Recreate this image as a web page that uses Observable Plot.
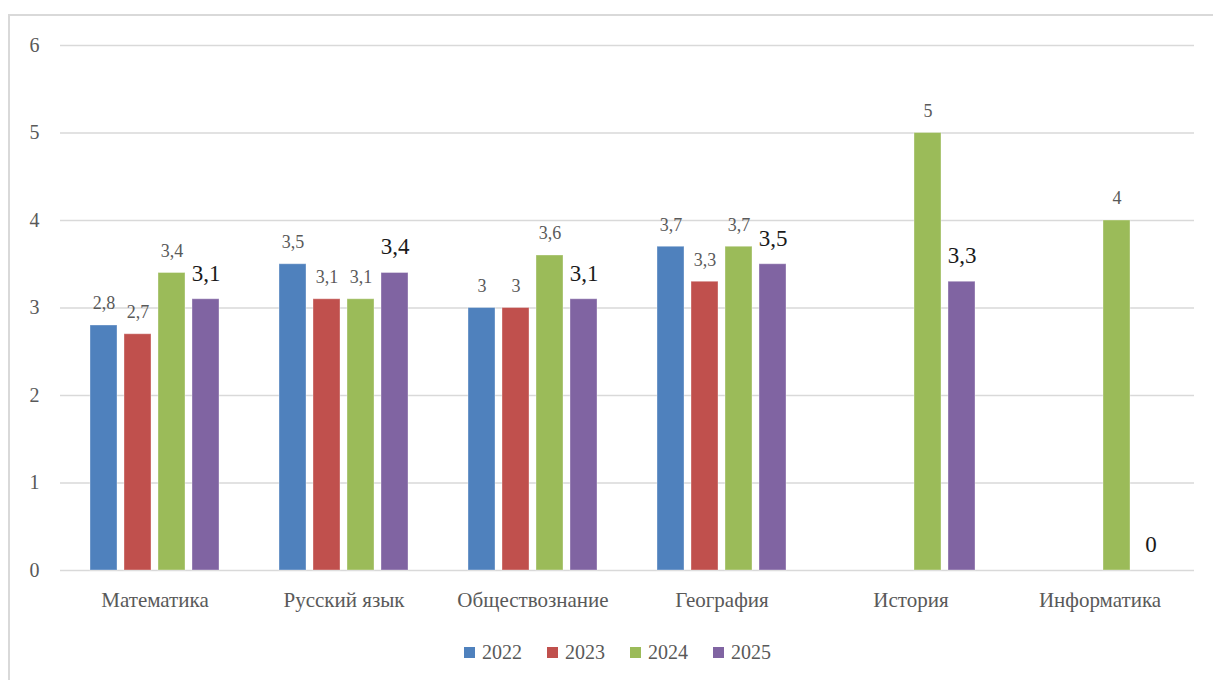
<!DOCTYPE html>
<html>
<head>
<meta charset="utf-8">
<script src="https://cdn.jsdelivr.net/npm/d3@7"></script>
<script src="https://cdn.jsdelivr.net/npm/@observablehq/plot@0.6"></script>
<style>
  html, body { margin: 0; padding: 0; background: #fff; }
  body { width: 1213px; height: 680px; overflow: hidden; position: relative;
         font-family: "Liberation Serif", "Times New Roman", "Tinos", "DejaVu Serif", "Liberation Sans", sans-serif; }
  #frame { position: absolute; left: 8px; top: 14px; width: 1230px; height: 720px;
           border: 2px solid #d9d9d9; box-sizing: border-box; }
  #chart { position: absolute; left: 0; top: 0; }
  #legend { position: absolute; left: 464px; top: 641px; display: flex; align-items: center;
            font-size: 20px; color: #595959; }
  .item { display: flex; align-items: center; margin-right: 25px; }
  .sw { width: 11px; height: 11px; margin-right: 7px; }
  #chart svg text { font-family: "Liberation Serif", "Times New Roman", "Tinos", "DejaVu Serif", "Liberation Sans", sans-serif; }
</style>
</head>
<body>
<div id="frame"></div>
<div id="chart"></div>
<div id="legend"></div>
<script>
const subjects = ["Математика", "Русский язык", "Обществознание", "География", "История", "Информатика"];
const years = ["2022", "2023", "2024", "2025"];
const colors = ["#4F81BD", "#C0504D", "#9BBB59", "#8064A2"];
const v2022 = [2.8, 3.5, 3, 3.7, null, null];
const v2023 = [2.7, 3.1, 3, 3.3, null, null];
const v2024 = [3.4, 3.1, 3.6, 3.7, 5, 4];
const v2025 = [3.1, 3.4, 3.1, 3.5, 3.3, 0];
const yTicks = [0, 1, 2, 3, 4, 5, 6];

const series = [v2022, v2023, v2024, v2025];
const rows = [];
series.forEach((vals, i) => {
  vals.forEach((v, j) => {
    if (v !== null) rows.push({subject: subjects[j], year: years[i], value: v});
  });
});
const fmt = v => String(v).replace(".", ",");

const chart = Plot.plot({
  width: 1213,
  height: 640,
  marginTop: 45,
  marginBottom: 70,
  marginLeft: 59,
  marginRight: 17.5,
  style: {fontSize: "20px", color: "#595959", background: "transparent", overflow: "visible"},
  fx: {domain: subjects, padding: 0, axis: "bottom", tickSize: 0, tickPadding: 22, label: null},
  x: {domain: years, axis: null, paddingInner: 0.21, paddingOuter: 0.85},
  y: {domain: [0, 6], ticks: yTicks, tickSize: 0, tickPadding: 21, label: null, tickFormat: d => String(d)},
  color: {domain: years, range: colors},
  marks: [
    Plot.ruleY(yTicks, {stroke: "#d9d9d9", strokeWidth: 1.6}),
    Plot.barY(rows, {fx: "subject", x: "year", y: "value", fill: "year", stroke: "#ffffff", strokeOpacity: 0.35, strokeWidth: 1}),
    Plot.text(rows.filter(d => d.year !== "2025"), {fx: "subject", x: "year", y: "value", text: d => fmt(d.value),
      dy: -22, lineAnchor: "middle", fontSize: 18, fill: "#595959", ariaLabel: "small-labels"}),
    Plot.text(rows.filter(d => d.year === "2025"), {fx: "subject", x: "year", y: "value", text: d => fmt(d.value),
      dy: -26, lineAnchor: "middle", fontSize: 23, fill: "#1a1a1a", ariaLabel: "big-labels"})
  ]
});
document.getElementById("chart").appendChild(chart);
d3.select(chart).selectAll('g[aria-label="small-labels"] text').style("letter-spacing", "1px");
d3.select(chart).selectAll('g[aria-label="fx-axis tick label"] text').style("font-size", "21px");

const legend = d3.select("#legend");
years.forEach((y, i) => {
  const it = legend.append("div").attr("class", "item");
  it.append("div").attr("class", "sw").style("background", colors[i]);
  it.append("span").text(y);
});
</script>
</body>
</html>
